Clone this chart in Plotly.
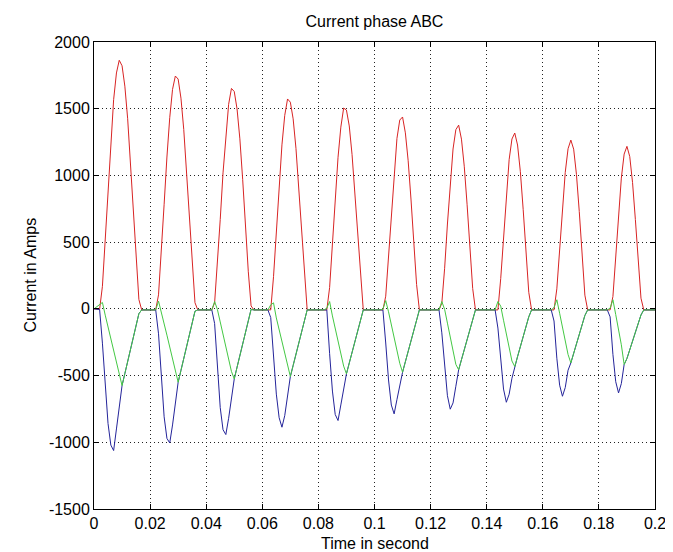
import plotly.graph_objects as go

# Sampling instants (s): 1 ms steps from 0 to 0.2 s
time_s = [i / 1000 for i in range(201)]

# Phase A current (A), one row per 20 ms cycle
phase_a = (
    [0, 0, -3, 169, 525, 909, 1269, 1568, 1768, 1863, 1822, 1669, 1425, 1097, 730, 363, 70, -8, -8, -8]
    + [-8, -8, -8, 105, 417, 784, 1138, 1433, 1645, 1745, 1722, 1579, 1344, 1029, 674, 322, 46, -8, -8, -8]
    + [-8, -8, -8, 45, 320, 669, 1019, 1315, 1533, 1652, 1629, 1498, 1274, 971, 623, 282, 22, -8, -8, -8]
    + [-8, -8, -8, -8, 241, 579, 926, 1229, 1450, 1573, 1549, 1424, 1203, 906, 569, 245, -8, -8, -8, -8]
    + [-8, -8, -8, -8, 160, 483, 826, 1136, 1362, 1505, 1490, 1371, 1156, 862, 533, 214, -8, -8, -8, -8]
    + [-8, -8, -8, -8, 95, 393, 730, 1039, 1277, 1415, 1438, 1319, 1110, 823, 495, 183, -8, -8, -8, -8]
    + [-8, -8, -8, -8, 42, 304, 636, 947, 1198, 1343, 1377, 1272, 1069, 784, 460, 153, -8, -8, -8, -8]
    + [-8, -8, -8, -8, -8, 228, 546, 861, 1118, 1273, 1318, 1228, 1028, 746, 427, 124, -8, -8, -8, -8]
    + [-8, -8, -8, -8, -8, 150, 449, 762, 1023, 1200, 1265, 1197, 1007, 729, 405, 103, -8, -8, -8, -8]
    + [-8, -8, -8, -8, -8, 92, 386, 706, 980, 1160, 1218, 1141, 946, 670, 359, 80, -8, -8, -8, -8]
    + [-8]
)

# Phase B current (A)
phase_b = (
    [0, -3, -5, -257, -593, -859, -1021, -1062, -900, -740, -575, -485, -395, -305, -216, -126, -36, -8, -8, -8]
    + [-8, -8, -8, -187, -535, -809, -971, -1005, -870, -715, -550, -461, -373, -284, -195, -106, -18, -8, -8, -8]
    + [-8, -8, -8, -110, -461, -740, -906, -942, -820, -675, -525, -437, -350, -262, -175, -87, -4, -8, -8, -8]
    + [-8, -8, -8, -65, -376, -639, -816, -887, -800, -660, -507, -424, -341, -258, -175, -92, -8, -8, -8, -8]
    + [-8, -8, -8, -8, -336, -616, -792, -837, -720, -590, -487, -406, -325, -244, -162, -81, -8, -8, -8, -8]
    + [-8, -8, -8, -8, -256, -533, -721, -787, -680, -565, -475, -396, -317, -238, -158, -79, -8, -8, -8, -8]
    + [-8, -8, -8, -8, -180, -451, -651, -752, -705, -580, -457, -381, -305, -229, -152, -76, -8, -8, -8, -8]
    + [-8, -8, -8, -8, -144, -407, -601, -700, -640, -520, -432, -358, -283, -209, -134, -60, -8, -8, -8, -8]
    + [-8, -8, -8, -8, -91, -370, -572, -655, -590, -460, -405, -334, -263, -192, -121, -50, -8, -8, -8, -8]
    + [-8, -8, -8, -8, -60, -341, -546, -630, -560, -417, -372, -307, -241, -176, -111, -46, -8, -8, -8, -8]
    + [-8]
)

# Phase C current (A)
phase_c = (
    [0, 18, 35, 48, -47, -135, -223, -311, -399, -487, -575, -485, -395, -305, -216, -126, -36, -8, -8, -8]
    + [-8, -8, -8, 58, -21, -109, -197, -286, -374, -462, -550, -461, -373, -284, -195, -106, -18, -8, -8, -8]
    + [-8, -8, -8, 55, -5, -98, -191, -284, -377, -469, -525, -437, -350, -262, -175, -87, -4, -8, -8, -8]
    + [-8, -8, -8, 30, 45, -68, -158, -248, -337, -427, -507, -424, -341, -258, -175, -92, -8, -8, -8, -8]
    + [-8, -8, -8, 5, 55, -53, -146, -240, -334, -429, -487, -406, -325, -244, -162, -81, -8, -8, -8, -8]
    + [-8, -8, -8, -2, 62, -22, -118, -215, -311, -408, -475, -396, -317, -238, -158, -79, -8, -8, -8, -8]
    + [-8, -8, -8, -8, 55, -4, -107, -210, -313, -416, -457, -381, -305, -229, -152, -76, -8, -8, -8, -8]
    + [-8, -8, -8, -8, 55, 20, -85, -187, -289, -391, -432, -358, -283, -209, -134, -60, -8, -8, -8, -8]
    + [-8, -8, -8, -8, 10, 68, -33, -136, -239, -342, -405, -334, -263, -192, -121, -50, -8, -8, -8, -8]
    + [-8, -8, -8, -8, 5, 68, -43, -156, -269, -417, -372, -307, -241, -176, -111, -46, -8, -8, -8, -8]
    + [-8]
)

x_ticks = [0, 0.02, 0.04, 0.06, 0.08, 0.1, 0.12, 0.14, 0.16, 0.18, 0.2]
x_labels = ["0", "0.02", "0.04", "0.06", "0.08", "0.1", "0.12", "0.14", "0.16", "0.18", "0.2"]
y_ticks = [-1500, -1000, -500, 0, 500, 1000, 1500, 2000]
y_labels = ["-1500", "-1000", "-500", "0", "500", "1000", "1500", "2000"]

FONT = "Liberation Sans, Arial, Helvetica, sans-serif"
FS = 16

fig = go.Figure()
fig.add_trace(go.Scatter(x=time_s, y=phase_a, mode="lines", name="Phase A",
                         line=dict(color="#d82424", width=1)))
fig.add_trace(go.Scatter(x=time_s, y=phase_b, mode="lines", name="Phase B",
                         line=dict(color="#24249a", width=1)))
fig.add_trace(go.Scatter(x=time_s, y=phase_c, mode="lines", name="Phase C",
                         line=dict(color="#44c844", width=1)))

axis_common = dict(
    showline=True, linecolor="black", linewidth=1, mirror="ticks",
    ticks="inside", ticklen=5, tickwidth=1, tickcolor="black",
    showgrid=True, gridcolor="#222222", gridwidth=1, griddash="1px,3px",
    zeroline=False, automargin=False,
    tickfont=dict(family=FONT, size=FS, color="black"),
)

fig.update_layout(
    template="none",
    width=673, height=552,
    margin=dict(l=86, r=26, t=34, b=51, pad=0, autoexpand=False),
    paper_bgcolor="white", plot_bgcolor="white",
    showlegend=False,
    font=dict(family=FONT, size=FS, color="black"),
    title=dict(text="Current phase ABC", x=0.5, xref="paper", xanchor="center",
               y=1 - 13 / 552, yref="container", yanchor="middle",
               font=dict(family=FONT, size=FS, color="black")),
    xaxis=dict(range=[0, 0.2], tickvals=x_ticks, ticktext=x_labels, **axis_common),
    yaxis=dict(range=[-1500, 2000], tickvals=y_ticks, ticktext=y_labels, **axis_common),
    annotations=[
        dict(text="Time in second", x=0.5, xref="paper", y=-0.074, yref="paper",
             xanchor="center", yanchor="middle", showarrow=False,
             font=dict(family=FONT, size=FS, color="black")),
        dict(text="Current in Amps", x=-0.114, xref="paper", y=0.5, yref="paper",
             xanchor="center", yanchor="middle", showarrow=False, textangle=-90,
             font=dict(family=FONT, size=FS, color="black")),
    ],
)

fig.write_html("out.html")
